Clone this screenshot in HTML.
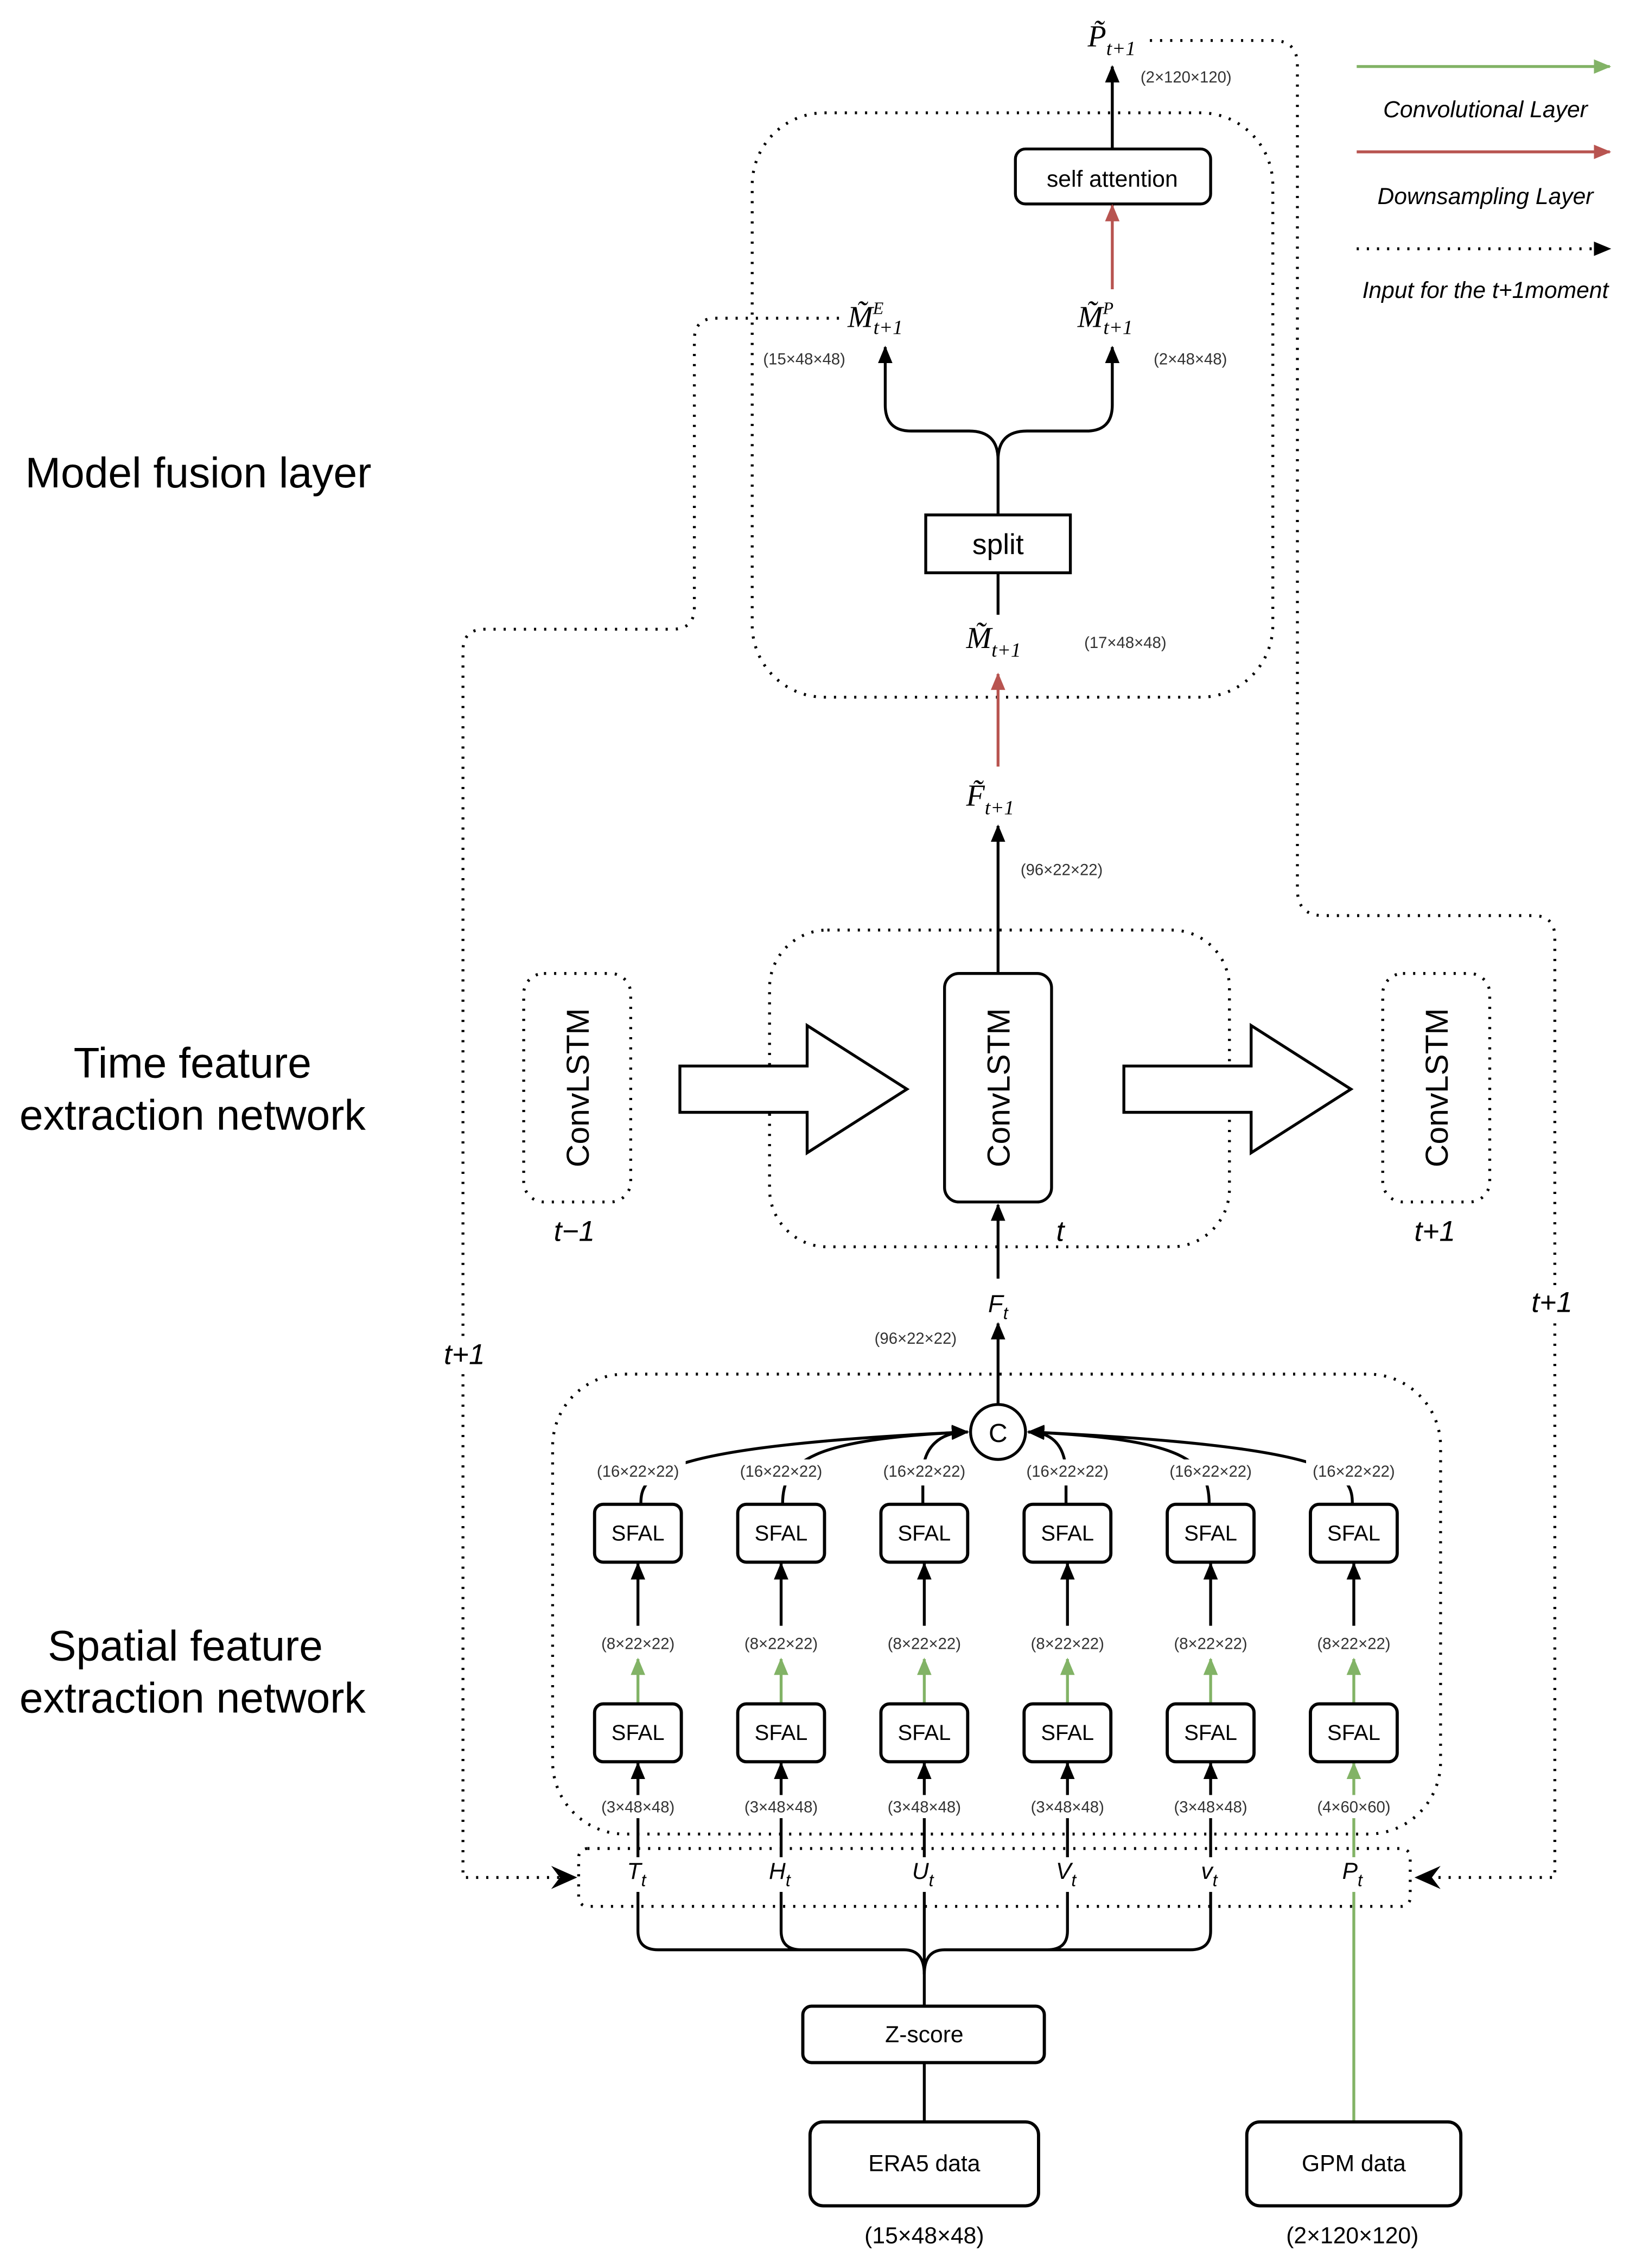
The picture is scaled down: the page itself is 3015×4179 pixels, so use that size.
<!DOCTYPE html>
<html><head><meta charset="utf-8"><style>
html,body{margin:0;padding:0;background:#fff}
svg{display:block}
text{font-family:"Liberation Sans",sans-serif}
.m{font-family:"Liberation Serif",serif;font-style:italic}
.s{font-size:11px;fill:#333}
</style></head><body>
<svg width="3015" height="4179" viewBox="0 0 1131 1568" xmlns="http://www.w3.org/2000/svg">
<defs>
<marker id="ab" markerWidth="12" markerHeight="12" refX="11" refY="6" orient="auto" markerUnits="userSpaceOnUse" viewBox="0 0 12 12"><path d="M0,1 L12,6 L0,11 Z" fill="#000"/></marker>
<marker id="ag" markerWidth="12" markerHeight="12" refX="11" refY="6" orient="auto" markerUnits="userSpaceOnUse" viewBox="0 0 12 12"><path d="M0,1 L12,6 L0,11 Z" fill="#82b366"/></marker>
<marker id="ar" markerWidth="12" markerHeight="12" refX="11" refY="6" orient="auto" markerUnits="userSpaceOnUse" viewBox="0 0 12 12"><path d="M0,1 L12,6 L0,11 Z" fill="#b85450"/></marker>
<marker id="abig" markerWidth="18" markerHeight="16" refX="16" refY="8" orient="auto" markerUnits="userSpaceOnUse" viewBox="0 0 18 16"><path d="M0,0 L18,8 L0,16 L6,8 Z" fill="#000"/></marker>
</defs>
<g fill="none" stroke="#000" stroke-width="2" stroke-dasharray="1.5 5.5">
<rect x="520" y="78" width="360" height="404" rx="50"/>
<rect x="532" y="643" width="318" height="219" rx="40"/>
<rect x="362" y="673" width="74" height="158" rx="14"/>
<rect x="956" y="673" width="74" height="158" rx="14"/>
<rect x="382" y="950" width="614" height="318" rx="50"/>
<rect x="400" y="1278" width="575" height="40" rx="6"/>
<path d="M795,28 H880 Q897,28 897,45 V615 Q897,633 915,633 H1060 Q1075,633 1075,648 V1298 H980" marker-end="url(#abig)"/>
<path d="M580,220 H495 Q480,220 480,235 V420 Q480,435 465,435 H335 Q320,435 320,450 V1298 H397" marker-end="url(#abig)"/>
<path d="M938,172 H1113" marker-end="url(#ab)"/>
</g>
<path d="M938,46 H1113" stroke="#82b366" stroke-width="2" marker-end="url(#ag)"/>
<path d="M938,105 H1113" stroke="#b85450" stroke-width="2" marker-end="url(#ar)"/>
<g font-style="italic" font-size="16" text-anchor="middle">
<text x="1027" y="81">Convolutional Layer</text>
<text x="1027" y="141">Downsampling Layer</text>
<text x="1027" y="206">Input for the t+1moment</text>
</g>
<g font-size="29.5" text-anchor="middle">
<text x="137" y="337">Model fusion layer</text>
<text x="133" y="745">Time feature</text><text x="133" y="781">extraction network</text>
<text x="128" y="1148">Spatial feature</text><text x="133" y="1184">extraction network</text>
</g>
<path d="M769,103 V46" stroke="#000" stroke-width="2" marker-end="url(#ab)"/>
<text class="m" x="752" y="32" font-size="21">P̃<tspan font-size="14" dy="6">t+1</tspan></text>
<text class="s" x="820" y="57" text-anchor="middle">(2×120×120)</text>
<rect x="702" y="103" width="135" height="38" rx="7" fill="#fff" stroke="#000" stroke-width="2"/>
<text x="769" y="129" font-size="16" text-anchor="middle">self attention</text>
<path d="M769,200 V142" stroke="#b85450" stroke-width="2" marker-end="url(#ar)"/>
<text class="m" x="586" y="226" font-size="21">M̃<tspan font-size="12" dy="-9">E</tspan><tspan font-size="14" dx="-7" dy="14">t+1</tspan></text>
<text class="m" x="745" y="226" font-size="21">M̃<tspan font-size="12" dy="-9">P</tspan><tspan font-size="14" dx="-7" dy="14">t+1</tspan></text>
<text class="s" x="556" y="252" text-anchor="middle">(15×48×48)</text>
<text class="s" x="823" y="252" text-anchor="middle">(2×48×48)</text>
<path d="M690,356 V318 Q690,298 670,298 H630 Q612,298 612,280 V240" fill="none" stroke="#000" stroke-width="2" marker-end="url(#ab)"/>
<path d="M690,318 Q690,298 710,298 H751 Q769,298 769,280 V240" fill="none" stroke="#000" stroke-width="2" marker-end="url(#ab)"/>
<rect x="640" y="356" width="100" height="40" fill="#fff" stroke="#000" stroke-width="2"/>
<text x="690" y="383" font-size="20" text-anchor="middle">split</text>
<path d="M690,396 V425" stroke="#000" stroke-width="2"/>
<text class="m" x="668" y="448" font-size="21">M̃<tspan font-size="14" dy="6">t+1</tspan></text>
<text class="s" x="778" y="448" text-anchor="middle">(17×48×48)</text>
<path d="M690,530 V466" stroke="#b85450" stroke-width="2" marker-end="url(#ar)"/>
<text class="m" x="668" y="557" font-size="21">F̃<tspan font-size="14" dy="6">t+1</tspan></text>
<path d="M690,672 V571" stroke="#000" stroke-width="2" marker-end="url(#ab)"/>
<text class="s" x="734" y="605" text-anchor="middle">(96×22×22)</text>
<rect x="653" y="673" width="74" height="158" rx="10" fill="#fff" stroke="#000" stroke-width="2"/>
<g font-size="22" text-anchor="middle">
<text transform="translate(698,752) rotate(-90)">ConvLSTM</text>
<text transform="translate(407,752) rotate(-90)">ConvLSTM</text>
<text transform="translate(1001,752) rotate(-90)">ConvLSTM</text>
</g>
<path d="M470,737 H558 V709 L627,753 L558,797 V769 H470 Z" fill="#fff" stroke="#000" stroke-width="2"/>
<path d="M777,737 H865 V709 L934,753 L865,797 V769 H777 Z" fill="#fff" stroke="#000" stroke-width="2"/>
<g class="m" font-size="20" text-anchor="middle">
<text x="397" y="858">t−1</text><text x="733" y="858">t</text><text x="992" y="858">t+1</text>
</g>
<g class="m" font-size="20" text-anchor="middle">
<rect x="305" y="925" width="32" height="24" fill="#fff"/>
<rect x="1057" y="889" width="32" height="24" fill="#fff"/>
<text x="321" y="943">t+1</text><text x="1073" y="907">t+1</text>
</g>
<path d="M690,884 V833" stroke="#000" stroke-width="2" marker-end="url(#ab)"/>
<text x="690" y="907" font-size="17" font-style="italic" text-anchor="middle">F<tspan font-size="12" dy="5">t</tspan></text>
<path d="M690,971 V915" stroke="#000" stroke-width="2" marker-end="url(#ab)"/>
<text class="s" x="633" y="929" text-anchor="middle">(96×22×22)</text>
<g fill="none" stroke="#000" stroke-width="2">
<path d="M443,1040 C443,1020 450,1000 669,990" marker-end="url(#ab)"/>
<path d="M541,1040 C541,1010 560,995 669,990" marker-end="url(#ab)"/>
<path d="M638,1040 V1020 C638,1000 650,990 669,990" marker-end="url(#ab)"/>
<path d="M737,1040 V1020 C737,1000 728,990 711,990" marker-end="url(#ab)"/>
<path d="M836,1040 C836,1010 820,995 711,990" marker-end="url(#ab)"/>
<path d="M935,1040 C935,1020 930,1000 711,990" marker-end="url(#ab)"/>
</g>
<circle cx="690" cy="990" r="19" fill="#fff" stroke="#000" stroke-width="2"/>
<text x="690" y="997" font-size="18" text-anchor="middle">C</text>
<g stroke="#000" stroke-width="2">
<path d="M441,1124 V1081" marker-end="url(#ab)"/><path d="M540,1124 V1081" marker-end="url(#ab)"/>
<path d="M639,1124 V1081" marker-end="url(#ab)"/><path d="M738,1124 V1081" marker-end="url(#ab)"/>
<path d="M837,1124 V1081" marker-end="url(#ab)"/><path d="M936,1124 V1081" marker-end="url(#ab)"/>
<path d="M441,1335 V1219" marker-end="url(#ab)"/>
<path d="M540,1335 V1219" marker-end="url(#ab)"/>
<path d="M639,1387 V1219" marker-end="url(#ab)"/>
<path d="M738,1335 V1219" marker-end="url(#ab)"/>
<path d="M837,1335 V1219" marker-end="url(#ab)"/>
</g>
<g stroke="#82b366" stroke-width="2">
<path d="M441,1178 V1147" marker-end="url(#ag)"/><path d="M540,1178 V1147" marker-end="url(#ag)"/>
<path d="M639,1178 V1147" marker-end="url(#ag)"/><path d="M738,1178 V1147" marker-end="url(#ag)"/>
<path d="M837,1178 V1147" marker-end="url(#ag)"/><path d="M936,1178 V1147" marker-end="url(#ag)"/>
<path d="M936,1467 V1219" marker-end="url(#ag)"/>
</g>
<path d="M441,1335 Q441,1348 455,1348 H625 Q639,1348 639,1365 Q639,1348 653,1348 H823 Q837,1348 837,1335 M540,1335 Q540,1348 554,1348 M738,1335 Q738,1348 724,1348" fill="none" stroke="#000" stroke-width="2"/>
<g fill="#fff" stroke="#000" stroke-width="2.2">
<rect x="411" y="1040" width="60" height="40" rx="6"/><rect x="510" y="1040" width="60" height="40" rx="6"/>
<rect x="609" y="1040" width="60" height="40" rx="6"/><rect x="708" y="1040" width="60" height="40" rx="6"/>
<rect x="807" y="1040" width="60" height="40" rx="6"/><rect x="906" y="1040" width="60" height="40" rx="6"/>
<rect x="411" y="1178" width="60" height="40" rx="6"/><rect x="510" y="1178" width="60" height="40" rx="6"/>
<rect x="609" y="1178" width="60" height="40" rx="6"/><rect x="708" y="1178" width="60" height="40" rx="6"/>
<rect x="807" y="1178" width="60" height="40" rx="6"/><rect x="906" y="1178" width="60" height="40" rx="6"/>
<rect x="555" y="1387" width="167" height="39" rx="6"/>
<rect x="560" y="1467" width="158" height="58" rx="9"/>
<rect x="862" y="1467" width="148" height="58" rx="9"/>
</g>
<path d="M639,1426 V1467" stroke="#000" stroke-width="2"/>
<g font-size="15" text-anchor="middle">
<text x="441" y="1065">SFAL</text><text x="540" y="1065">SFAL</text><text x="639" y="1065">SFAL</text>
<text x="738" y="1065">SFAL</text><text x="837" y="1065">SFAL</text><text x="936" y="1065">SFAL</text>
<text x="441" y="1203">SFAL</text><text x="540" y="1203">SFAL</text><text x="639" y="1203">SFAL</text>
<text x="738" y="1203">SFAL</text><text x="837" y="1203">SFAL</text><text x="936" y="1203">SFAL</text>
<text x="639" y="1412" font-size="16">Z-score</text>
<text x="639" y="1501" font-size="16">ERA5  data</text>
<text x="936" y="1501" font-size="16">GPM data</text>
<text x="639" y="1551" font-size="16">(15×48×48)</text>
<text x="935" y="1551" font-size="16">(2×120×120)</text>
</g>
<g fill="#fff">
<rect x="408" y="1009" width="66" height="18"/><rect x="507" y="1009" width="66" height="18"/><rect x="606" y="1009" width="66" height="18"/>
<rect x="705" y="1009" width="66" height="18"/><rect x="804" y="1009" width="66" height="18"/><rect x="903" y="1009" width="66" height="18"/>
<rect x="411" y="1128" width="60" height="16"/><rect x="510" y="1128" width="60" height="16"/><rect x="609" y="1128" width="60" height="16"/>
<rect x="708" y="1128" width="60" height="16"/><rect x="807" y="1128" width="60" height="16"/><rect x="906" y="1128" width="60" height="16"/>
<rect x="411" y="1241" width="60" height="16"/><rect x="510" y="1241" width="60" height="16"/><rect x="609" y="1241" width="60" height="16"/>
<rect x="708" y="1241" width="60" height="16"/><rect x="807" y="1241" width="60" height="16"/><rect x="906" y="1241" width="60" height="16"/>
<rect x="430" y="1284" width="22" height="24"/><rect x="529" y="1284" width="22" height="24"/><rect x="628" y="1284" width="22" height="24"/>
<rect x="727" y="1284" width="22" height="24"/><rect x="826" y="1284" width="22" height="24"/><rect x="925" y="1284" width="22" height="24"/>
</g>
<g class="s" text-anchor="middle">
<text x="441" y="1021">(16×22×22)</text><text x="540" y="1021">(16×22×22)</text><text x="639" y="1021">(16×22×22)</text>
<text x="738" y="1021">(16×22×22)</text><text x="837" y="1021">(16×22×22)</text><text x="936" y="1021">(16×22×22)</text>
<text x="441" y="1140">(8×22×22)</text><text x="540" y="1140">(8×22×22)</text><text x="639" y="1140">(8×22×22)</text>
<text x="738" y="1140">(8×22×22)</text><text x="837" y="1140">(8×22×22)</text><text x="936" y="1140">(8×22×22)</text>
<text x="441" y="1253">(3×48×48)</text><text x="540" y="1253">(3×48×48)</text><text x="639" y="1253">(3×48×48)</text>
<text x="738" y="1253">(3×48×48)</text><text x="837" y="1253">(3×48×48)</text><text x="936" y="1253">(4×60×60)</text>
</g>
<g font-size="16" font-style="italic" text-anchor="middle">
<text x="440" y="1299">T<tspan font-size="12" dy="5">t</tspan></text>
<text x="539" y="1299">H<tspan font-size="12" dy="5">t</tspan></text>
<text x="638" y="1299">U<tspan font-size="12" dy="5">t</tspan></text>
<text x="737" y="1299">V<tspan font-size="12" dy="5">t</tspan></text>
<text x="836" y="1299">v<tspan font-size="12" dy="5">t</tspan></text>
<text x="935" y="1299">P<tspan font-size="12" dy="5">t</tspan></text>
</g>
</svg>
</body></html>
